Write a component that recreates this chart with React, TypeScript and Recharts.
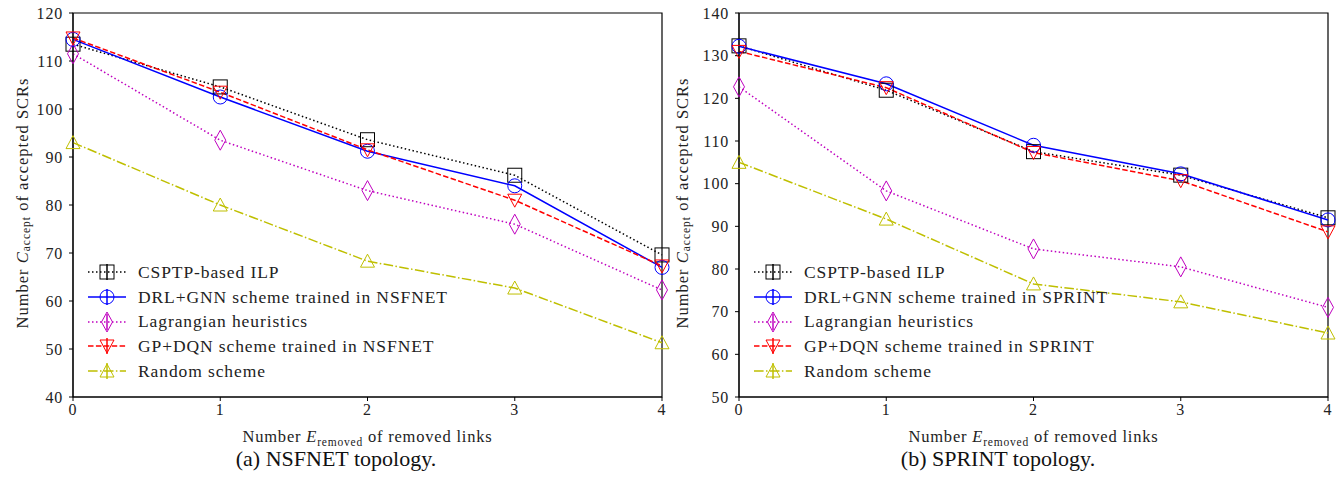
import React from "react";
import {
  LineChart,
  Line,
  XAxis,
  YAxis,
  ReferenceArea,
} from "recharts";

// x positions: number of removed links
const removedLinks = [0, 1, 2, 3, 4];

// (a) NSFNET
const nsfIlp = [113.5, 104.6, 93.6, 86.2, 69.6];
const nsfDrl = [114.5, 102.5, 91.2, 84.0, 67.0];
const nsfLag = [111.5, 93.5, 83.0, 76.0, 62.3];
const nsfGp = [114.8, 103.5, 91.5, 81.0, 67.3];
const nsfRnd = [93.0, 80.0, 68.3, 62.7, 51.3];

// (b) SPRINT
const spIlp = [132.3, 121.9, 107.5, 102.0, 92.0];
const spDrl = [132.2, 123.4, 109.0, 102.3, 91.5];
const spLag = [122.7, 98.3, 84.7, 80.5, 71.0];
const spGp = [131.0, 122.5, 107.3, 100.7, 88.7];
const spRnd = [105.0, 91.7, 76.5, 72.3, 65.0];

const nsfTicks = [40, 50, 60, 70, 80, 90, 100, 110, 120];
const spTicks = [50, 60, 70, 80, 90, 100, 110, 120, 130, 140];

const FONT = "'Liberation Serif', 'DejaVu Serif', serif";

type MarkerKind = "square" | "circle" | "diamond" | "tdown" | "tup";

const series = [
  { key: "ilp", color: "#000000", dash: "1.5 2.5", marker: "square" as MarkerKind },
  { key: "drl", color: "#0000ff", dash: undefined, marker: "circle" as MarkerKind },
  { key: "lag", color: "#bf00bf", dash: "1.5 2.5", marker: "diamond" as MarkerKind },
  { key: "gp", color: "#ff0000", dash: "5.5 2.4", marker: "tdown" as MarkerKind },
  { key: "rnd", color: "#bfbf00", dash: "9.6 2.4 1.5 2.4", marker: "tup" as MarkerKind },
];

function Marker({ kind, cx, cy, color, cross }: { kind: MarkerKind; cx: number; cy: number; color: string; cross?: boolean }) {
  const s = 7;
  let shape: React.ReactNode = null;
  if (kind === "square") {
    shape = <rect x={cx - s} y={cy - s} width={2 * s} height={2 * s} />;
  } else if (kind === "circle") {
    shape = <circle cx={cx} cy={cy} r={s} />;
  } else if (kind === "diamond") {
    shape = <polygon points={`${cx},${cy - 10} ${cx + 5.5},${cy} ${cx},${cy + 10} ${cx - 5.5},${cy}`} />;
  } else if (kind === "tdown") {
    shape = <polygon points={`${cx - 7},${cy - 6} ${cx + 7},${cy - 6} ${cx},${cy + 7}`} />;
  } else {
    shape = <polygon points={`${cx - 7},${cy + 6} ${cx + 7},${cy + 6} ${cx},${cy - 7}`} />;
  }
  return (
    <g fill="none" stroke={color} strokeWidth={1}>
      {shape}
      {cross && <line x1={cx} x2={cx} y1={cy - 8} y2={cy + 8} strokeWidth={1.5} />}
    </g>
  );
}

function makeDot(kind: MarkerKind, color: string) {
  return (props: any) => {
    const { cx, cy, index } = props;
    if (cx == null || cy == null) return <g key={index} />;
    return <Marker key={index} kind={kind} cx={cx} cy={cy} color={color} />;
  };
}

function LegendBox({ labels, left }: { labels: string[]; left: number }) {
  return (
    <div style={{ position: "absolute", left, top: 260, fontFamily: FONT, fontSize: 17.5, letterSpacing: 0.9, color: "#222" }}>
      {series.map((s, i) => (
        <div key={s.key} style={{ display: "flex", alignItems: "center", height: 24.7 }}>
          <svg width={50} height={22} style={{ flex: "none" }}>
            <line x1={0} x2={38} y1={11} y2={11} stroke={s.color} strokeWidth={1.5} strokeDasharray={s.dash} />
            <Marker kind={s.marker} cx={19} cy={11} color={s.color} cross />
          </svg>
          <span style={{ whiteSpace: "nowrap" }}>{labels[i]}</span>
        </div>
      ))}
    </div>
  );
}

function makeYLabel(dx: number) {
  return (props: any) => {
    const vb = props.viewBox;
    const x = vb.x + dx;
    const y = vb.y + vb.height / 2 - 2;
    return (
      <text
        x={x}
        y={y}
        transform={`rotate(-90 ${x} ${y})`}
        textAnchor="middle"
        dominantBaseline="central"
        fontFamily={FONT}
        fontSize={16.5}
        letterSpacing={1}
        fill="#222"
      >
        <tspan>Number </tspan>
        <tspan fontStyle="italic">C</tspan>
        <tspan fontSize={11.5} dy={4}>accept</tspan>
        <tspan dy={-4}> of accepted SCRs</tspan>
      </text>
    );
  };
}

function XLabel(props: any) {
  const vb = props.viewBox;
  const x = vb.x + vb.width / 2;
  const y = vb.y + 45;
  return (
    <text x={x} y={y} textAnchor="middle" fontFamily={FONT} fontSize={16.5} letterSpacing={0.8} fill="#222">
      <tspan>Number </tspan>
      <tspan fontStyle="italic">E</tspan>
      <tspan fontSize={11.5} dy={4}>removed</tspan>
      <tspan dy={-4}> of removed links</tspan>
    </text>
  );
}

function Panel({
  values,
  yDomain,
  yTicks,
  width,
  marginRight,
  labelDx,
}: {
  values: number[][];
  yDomain: [number, number];
  yTicks: number[];
  width: number;
  marginRight: number;
  labelDx: number;
}) {
  const data = removedLinks.map((x, i) => {
    const row: any = { x };
    series.forEach((s, j) => {
      row[s.key] = values[j][i];
    });
    return row;
  });
  const tickStyle = { fontFamily: FONT, fontSize: 16, letterSpacing: 0.8, fill: "#222" };
  const YLabel = makeYLabel(labelDx);
  return (
    <LineChart width={width} height={487} data={data} margin={{ top: 13, right: marginRight, left: 23, bottom: 40 }}>
      <XAxis
        dataKey="x"
        type="number"
        domain={[0, 4]}
        ticks={removedLinks}
        tick={tickStyle}
        tickSize={4}
        tickMargin={3}
        height={50}
        axisLine={{ stroke: "#000" }}
        tickLine={{ stroke: "#000" }}
        label={<XLabel />}
      />
      <YAxis
        type="number"
        domain={yDomain}
        ticks={yTicks}
        tick={tickStyle}
        tickSize={4}
        tickMargin={6}
        width={50}
        allowDataOverflow
        axisLine={{ stroke: "#000" }}
        tickLine={{ stroke: "#000" }}
        label={<YLabel />}
      />
      <ReferenceArea x1={0} x2={4} y1={yDomain[0]} y2={yDomain[1]} fill="none" stroke="#000" strokeWidth={1.2} />
      {series.map((s) => (
        <Line
          key={s.key}
          dataKey={s.key}
          type="linear"
          stroke={s.color}
          strokeWidth={1.5}
          strokeDasharray={s.dash}
          dot={makeDot(s.marker, s.color)}
          activeDot={false}
          isAnimationActive={false}
        />
      ))}
    </LineChart>
  );
}

export default function App() {
  return (
    <div style={{ position: "absolute", left: 0, top: 0, width: 1338, height: 487, background: "#fff", overflow: "hidden" }}>
      <div style={{ position: "absolute", left: 0, top: 0 }}>
        <Panel
          values={[nsfIlp, nsfDrl, nsfLag, nsfGp, nsfRnd]}
          yDomain={[40, 120]}
          yTicks={nsfTicks}
          width={680}
          marginRight={18}
          labelDx={-1}
        />
      </div>
      <div style={{ position: "absolute", left: 666, top: 0 }}>
        <Panel
          values={[spIlp, spDrl, spLag, spGp, spRnd]}
          yDomain={[50, 140]}
          yTicks={spTicks}
          width={672}
          marginRight={10}
          labelDx={-7}
        />
      </div>
      <LegendBox
        left={88}
        labels={[
          "CSPTP-based ILP",
          "DRL+GNN scheme trained in NSFNET",
          "Lagrangian heuristics",
          "GP+DQN scheme trained in NSFNET",
          "Random scheme",
        ]}
      />
      <LegendBox
        left={754}
        labels={[
          "CSPTP-based ILP",
          "DRL+GNN scheme trained in SPRINT",
          "Lagrangian heuristics",
          "GP+DQN scheme trained in SPRINT",
          "Random scheme",
        ]}
      />
      <svg width={1338} height={67} style={{ position: "absolute", left: 0, top: 420 }}>
        <text x={336} y={46} textAnchor="middle" fontFamily={FONT} fontSize={22} fill="#111">
          (a) NSFNET topology.
        </text>
        <text x={998} y={46} textAnchor="middle" fontFamily={FONT} fontSize={22} fill="#111">
          (b) SPRINT topology.
        </text>
      </svg>
    </div>
  );
}
